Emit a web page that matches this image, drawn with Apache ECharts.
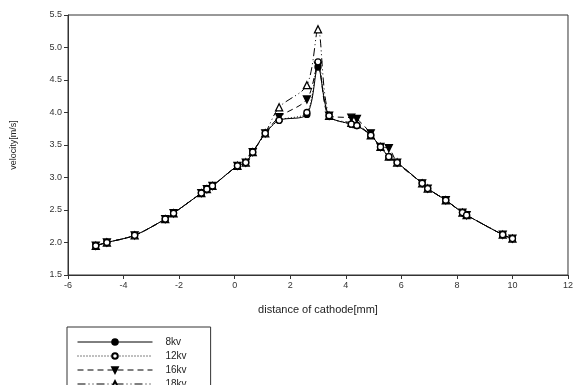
<!DOCTYPE html>
<html>
<head>
<meta charset="utf-8">
<script src="https://cdn.jsdelivr.net/npm/echarts@6/dist/echarts.min.js"></script>
<style>
  html, body { margin: 0; padding: 0; background: #fff; }
  #myChart { width: 576px; height: 385px; }
</style>
</head>
<body>
<div id="myChart"></div>
<script>
  // distance of cathode [mm]
  let xs = [-5.0, -4.6, -3.6, -2.5, -2.2, -1.2, -1.0, -0.8, 0.1, 0.4, 0.65, 1.1, 1.6, 2.6, 3.0,
    3.4, 4.2, 4.4, 4.9, 5.25, 5.55, 5.85, 6.75, 6.95, 7.6, 8.2, 8.35, 9.65, 10.0];
  // velocity [m/s]
  let v8 = [1.95, 2.0, 2.11, 2.36, 2.45, 2.76, 2.82, 2.87, 3.18, 3.23, 3.39, 3.68, 3.88, 3.97, 4.70,
    3.95, 3.82, 3.80, 3.65, 3.47, 3.32, 3.23, 2.91, 2.83, 2.65, 2.46, 2.42, 2.12, 2.06];
  let v12 = [1.95, 2.0, 2.11, 2.36, 2.45, 2.76, 2.82, 2.87, 3.18, 3.23, 3.39, 3.68, 3.88, 4.0, 4.78,
    3.95, 3.82, 3.80, 3.65, 3.47, 3.32, 3.23, 2.91, 2.83, 2.65, 2.46, 2.42, 2.12, 2.06];
  let v16 = [1.95, 2.0, 2.11, 2.36, 2.45, 2.76, 2.82, 2.87, 3.18, 3.23, 3.39, 3.68, 3.93, 4.2, 4.72,
    3.95, 3.92, 3.90, 3.68, 3.47, 3.45, 3.23, 2.91, 2.83, 2.65, 2.46, 2.42, 2.12, 2.06];
  let v18 = [1.95, 2.0, 2.11, 2.36, 2.45, 2.76, 2.82, 2.87, 3.18, 3.23, 3.39, 3.68, 4.08, 4.42, 5.28,
    3.95, 3.84, 3.82, 3.65, 3.47, 3.32, 3.23, 2.91, 2.83, 2.65, 2.46, 2.42, 2.12, 2.06];
  let names = ['8kv', '12kv', '16kv', '18kv'];

  function pts(ys) {
    return xs.map((x, i) => [x, ys[i]]);
  }

  let font = 'Liberation Sans, Arial, sans-serif';
  let myChart = echarts.init(document.getElementById('myChart'));

  function mkSeries(name, ys, symbol, fill, dash, z) {
    return {
      name: name,
      type: 'line',
      data: pts(ys),
      smooth: 0.3,
      animation: false,
      symbol: symbol,
      symbolSize: symbol === 'triangle' ? 7 : 6,
      symbolRotate: 0,
      z: z,
      itemStyle: { color: fill, borderColor: '#000', borderWidth: 1.3 },
      lineStyle: { color: '#000', width: 1, type: dash }
    };
  }

  let s16 = mkSeries('16kv', v16, 'triangle', '#000', [6, 4], 3);
  s16.symbolRotate = 180;

  let option = {
    backgroundColor: '#fff',
    grid: {
      left: 68, right: 7, top: 15, bottom: 110,
      show: true, borderColor: '#333', borderWidth: 1
    },
    legend: {
      data: names,
      orient: 'vertical',
      left: 67, top: 327, height: 80,
      padding: [10, 24, 12, 10],
      borderColor: '#333', borderWidth: 1,
      itemWidth: 75, itemHeight: 7, itemGap: 4,
      lineStyle: { width: 1 },
      textStyle: { fontFamily: font, fontSize: 10, color: '#222', padding: [0, 0, 0, 8] }
    },
    xAxis: {
      type: 'value', min: -6, max: 12, interval: 2,
      name: 'distance of cathode[mm]', nameLocation: 'middle', nameGap: 29,
      nameTextStyle: { fontFamily: font, fontSize: 11, color: '#222' },
      axisLine: { onZero: false, lineStyle: { color: '#333' } },
      axisTick: { inside: false, length: 4, lineStyle: { color: '#333' } },
      axisLabel: { fontFamily: font, fontSize: 9, color: '#333', margin: 6 },
      splitLine: { show: false }
    },
    yAxis: {
      type: 'value', min: 1.5, max: 5.5, interval: 0.5,
      name: 'velocity[m/s]', nameLocation: 'middle', nameGap: 50,
      nameTextStyle: { fontFamily: font, fontSize: 9, color: '#222' },
      axisLine: { show: true, onZero: false, lineStyle: { color: '#333' } },
      axisTick: { show: true, inside: false, length: 4, lineStyle: { color: '#333' } },
      axisLabel: { fontFamily: font, fontSize: 9, color: '#333', margin: 6,
        formatter: (v) => v.toFixed(1) },
      splitLine: { show: false }
    },
    series: [
      mkSeries('8kv', v8, 'circle', '#000', 'solid', 2),
      mkSeries('12kv', v12, 'circle', '#fff', [1, 2], 6),
      s16,
      mkSeries('18kv', v18, 'triangle', '#fff', [8, 3, 1, 3, 1, 3], 4)
    ]
  };

  myChart.setOption(option);
</script>
</body>
</html>
